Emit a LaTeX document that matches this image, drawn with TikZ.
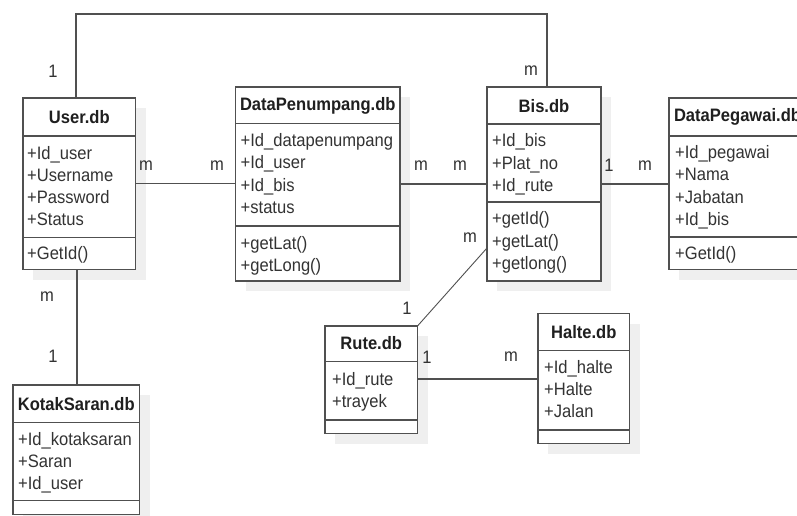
\documentclass[tikz,border=0pt]{standalone}
\usepackage{fontspec}
\setmainfont{Liberation Sans}[FakeStretch=0.92]
\usetikzlibrary{calc}
\definecolor{ln}{HTML}{505050}
\definecolor{tx}{HTML}{333333}
\definecolor{sh}{HTML}{EFEFEF}
\tikzset{
  cls/.style={draw=ln, line width=1.4pt, fill=white, inner sep=0pt, outer sep=0pt, anchor=north west},
  sepline/.style={draw=ln, line width=1.4pt},
  conn/.style={draw=ln, line width=1.2pt},
  ttl/.style={font=\bfseries\fontsize{18}{20}\selectfont, text=black!88, inner sep=0pt, anchor=center},
  att/.style={font=\fontsize{18}{20}\selectfont, text=tx, inner sep=0pt, anchor=west, text height=12.9pt, text depth=0pt},
  mult/.style={font=\fontsize{18}{20}\selectfont, text=tx, inner sep=0pt, anchor=center},
}
% #1 name, #2 x, #3 y, #4 w, #5 h, #6 first separator, #7 second separator, #8 title, #9 title offset
\newcommand\myclassbox[9]{%
  \fill[sh] (#2+10,#3+10) rectangle ++(#4,#5);
  \node[cls, minimum width=#4pt, minimum height=#5pt] (#1) at (#2,#3) {};
  \draw[sepline] ($(#1.north west)+(0,#6)$) -- ($(#1.north east)+(0,#6)$);
  \draw[sepline] ($(#1.north west)+(0,#7)$) -- ($(#1.north east)+(0,#7)$);
  \node[ttl] (#1-t) at ($(#1.north)+(0,#9)$) {#8};
}
\newcommand\myattr[4]{% #1 box, #2 dx, #3 dy, #4 text
  \node[att] at ($(#1.north west)+(#2,#3)$) {#4};
}
\begin{document}
\begin{tikzpicture}[x=1pt, y=-1pt]
\useasboundingbox (0,0) rectangle (797,516);
\clip (0,0) rectangle (797,516);
\fill[white] (0,0) rectangle (797,516);

% User.db
\myclassbox{user}{23}{98}{112.5}{171.5}{38}{139.5}{User.db}{19}
\myattr{user}{4}{55}{+Id\_user}
\myattr{user}{4}{77}{+Username}
\myattr{user}{4}{99}{+Password}
\myattr{user}{4}{121}{+Status}
\myattr{user}{4}{155}{+GetId()}

% DataPenumpang.db
\myclassbox{dp}{235.5}{87}{164.5}{194}{36.5}{139}{DataPenumpang.db}{19}
\myattr{dp}{5}{53}{+Id\_datapenumpang}
\myattr{dp}{5}{75}{+Id\_user}
\myattr{dp}{5}{98}{+Id\_bis}
\myattr{dp}{5}{120}{+status}
\myattr{dp}{5}{156}{+getLat()}
\myattr{dp}{5}{178}{+getLong()}

% Bis.db
\myclassbox{bis}{487}{87}{114}{194}{37}{115}{Bis.db}{19}
\myattr{bis}{5}{53}{+Id\_bis}
\myattr{bis}{5}{76}{+Plat\_no}
\myattr{bis}{5}{98}{+Id\_rute}
\myattr{bis}{5}{131}{+getId()}
\myattr{bis}{5}{154}{+getLat()}
\myattr{bis}{5}{176}{+getlong()}

% DataPegawai.db
\myclassbox{peg}{669}{98}{137}{171.5}{38}{139}{DataPegawai.db}{19}
\myattr{peg}{6}{54}{+Id\_pegawai}
\myattr{peg}{6}{76}{+Nama}
\myattr{peg}{6}{99}{+Jabatan}
\myattr{peg}{6}{121}{+Id\_bis}
\myattr{peg}{6}{155}{+GetId()}

% KotakSaran.db
\myclassbox{kotak}{13}{385}{126.5}{129.5}{37.5}{115.5}{KotakSaran.db}{19}
\myattr{kotak}{5}{54}{+Id\_kotaksaran}
\myattr{kotak}{5}{76.5}{+Saran}
\myattr{kotak}{5}{98}{+Id\_user}

% Rute.db
\myclassbox{rute}{325}{326}{92.5}{107.5}{35.5}{94}{Rute.db}{17}
\myattr{rute}{7}{53}{+Id\_rute}
\myattr{rute}{7}{75.5}{+trayek}

% Halte.db
\myclassbox{halte}{538}{313.5}{91.5}{130}{37}{116.5}{Halte.db}{18.5}
\myattr{halte}{6}{53.5}{+Id\_halte}
\myattr{halte}{6}{75.5}{+Halte}
\myattr{halte}{6}{98}{+Jalan}

% connectors
\coordinate (uTop) at ($(user.north west)+(53,0)$);
\coordinate (bTop) at ($(bis.north west)+(60,0)$);
\draw[conn] (uTop) |- ($(bTop)+(0,-73)$) -- (bTop);
\draw[conn] (user.east) -- (user.east -| dp.west);
\draw[conn] (dp.east) -- (dp.east -| bis.west);
\draw[conn] (bis.east) -- (bis.east -| peg.west);
\coordinate (uBot) at ($(user.south west)+(54,0)$);
\draw[conn] (uBot) -- (uBot |- kotak.north);
\coordinate (bLeft) at ($(bis.north west)+(0,161)$);
\draw[conn, line width=0.9pt] (bLeft) -- (rute.north east);
\coordinate (rRight) at ($(rute.north east)+(0,53)$);
\draw[conn] (rRight) -- (rRight -| halte.west);

% multiplicities
\node[mult] at (53,71) {1};
\node[mult] at (531,71) {m};
\node[mult] at (146,166) {m};
\node[mult] at (217,166) {m};
\node[mult] at (421,166) {m};
\node[mult] at (460,166) {m};
\node[mult] at (609,165) {1};
\node[mult] at (645,166) {m};
\node[mult] at (47,297) {m};
\node[mult] at (53,356) {1};
\node[mult] at (470,238) {m};
\node[mult] at (407,308) {1};
\node[mult] at (427,357) {1};
\node[mult] at (511,357) {m};
\end{tikzpicture}
\end{document}
